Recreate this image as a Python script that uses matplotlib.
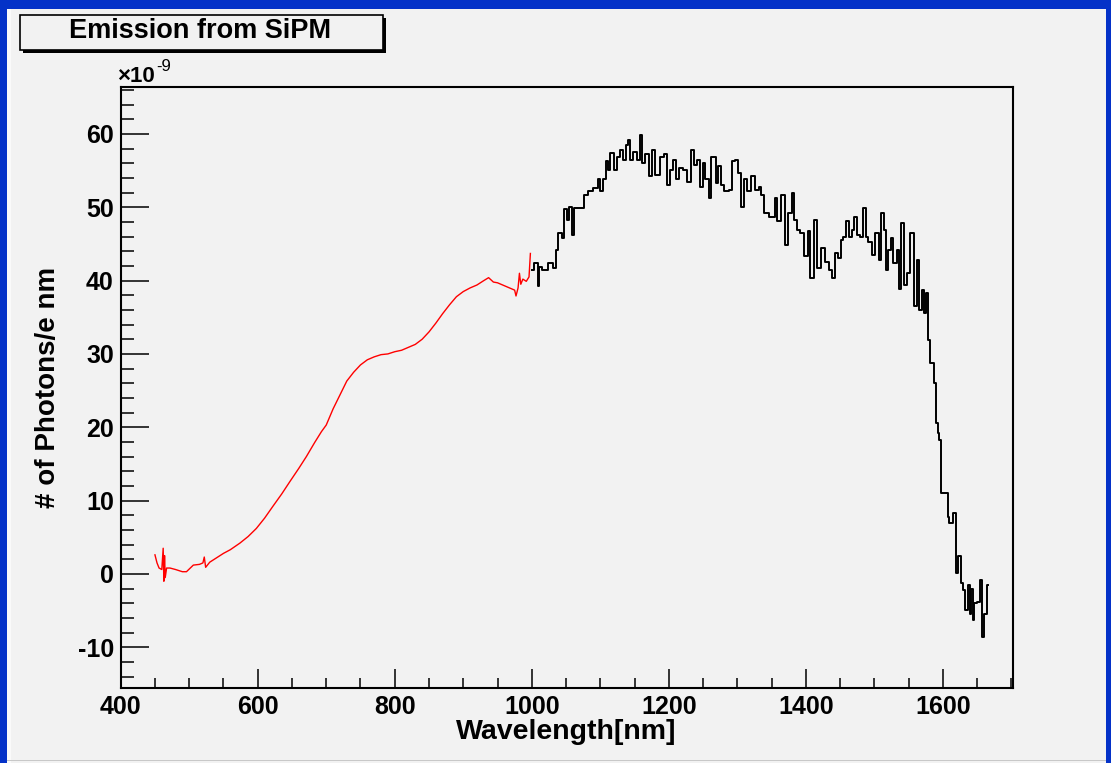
import matplotlib
matplotlib.use("Agg")
import matplotlib.pyplot as plt
from matplotlib.patches import Rectangle
from matplotlib.ticker import MultipleLocator

plt.rcParams['font.family'] = ['Liberation Sans', 'DejaVu Sans']
plt.rcParams['axes.unicode_minus'] = False

# red part (visible spectrometer), values in units of 1e-9
wl_vis = [450, 453, 456, 460, 462, 463, 464, 465, 467, 472, 480, 490, 496, 506,
          515, 520, 522, 524, 530, 540, 550, 560, 574, 586, 598, 610, 622, 635,
          647, 660, 671, 683, 693, 700, 710, 720, 730, 740, 750, 760, 770, 780,
          790, 800, 810, 820, 830, 840, 850, 860, 870, 880, 890, 900, 910, 920,
          930, 937, 944, 950, 960, 970, 975, 977, 980, 982, 984, 987, 992, 996,
          998]
ph_vis = [2.6, 1.5, 0.8, 0.6, 3.5, -1.0, 2.5, -0.5, 0.8, 0.8, 0.6, 0.3, 0.3, 1.2,
          1.3, 1.5, 2.3, 0.9, 1.6, 2.2, 2.8, 3.3, 4.2, 5.1, 6.2, 7.6, 9.2, 10.9,
          12.6, 14.4, 16.0, 17.9, 19.4, 20.3, 22.5, 24.4, 26.3, 27.5, 28.5, 29.2,
          29.6, 29.9, 30.0, 30.3, 30.5, 30.9, 31.3, 32.0, 33.0, 34.2, 35.5, 36.7,
          37.8, 38.5, 39.0, 39.4, 40.0, 40.4, 39.8, 39.7, 39.3, 38.9, 38.7, 37.9,
          39.0, 41.0, 39.5, 40.2, 39.9, 40.5, 43.7]

# black part (infrared spectrometer)
wl_ir = [1000, 1007, 1010, 1012, 1019, 1027, 1034, 1037, 1041, 1046, 1049, 1053,
         1056, 1061, 1063, 1075, 1078, 1085, 1095, 1097, 1102, 1107, 1110, 1112,
         1117, 1122, 1126, 1131, 1136, 1139, 1141, 1146, 1151, 1156, 1160, 1163,
         1168, 1173, 1178, 1183, 1190, 1195, 1199, 1204, 1209, 1212, 1217, 1224,
         1229, 1235, 1238, 1243, 1248, 1251, 1256, 1260, 1263, 1268, 1270, 1275,
         1277, 1285, 1290, 1294, 1299, 1302, 1308, 1311, 1316, 1324, 1329, 1333,
         1336, 1341, 1353, 1357, 1360, 1367, 1372, 1377, 1382, 1384, 1389, 1394,
         1402, 1404, 1409, 1414, 1419, 1426, 1431, 1436, 1440, 1445, 1450, 1453,
         1457, 1460, 1465, 1470, 1472, 1477, 1482, 1486, 1489, 1494, 1499, 1504,
         1509, 1511, 1516, 1518, 1523, 1526, 1530, 1535, 1537, 1541, 1545, 1550,
         1555, 1560, 1564, 1567, 1572, 1574, 1577, 1579, 1584, 1589, 1591, 1594,
         1596, 1599, 1606, 1608, 1611, 1618, 1620, 1625, 1628, 1630, 1635, 1638,
         1640, 1642, 1645, 1647, 1652, 1656, 1659, 1662, 1666]
ph_ir = [41.5, 42.4, 39.2, 41.9, 41.5, 42.4, 41.7, 44.2, 46.5, 45.8, 49.7, 48.3,
         50.1, 46.2, 49.9, 49.9, 51.7, 52.2, 52.6, 53.8, 52.2, 53.8, 56.3, 55.1,
         57.4, 55.1, 56.9, 57.8, 56.5, 58.5, 59.2, 56.5, 57.6, 56.5, 59.9, 56.0,
         57.2, 54.2, 57.8, 54.4, 56.9, 57.2, 53.1, 55.1, 56.5, 53.8, 55.3, 55.1,
         53.5, 57.8, 55.8, 56.5, 52.8, 56.0, 53.8, 51.3, 56.9, 56.9, 53.3, 55.6,
         53.1, 52.2, 52.4, 56.3, 56.5, 54.7, 50.1, 53.8, 52.2, 54.2, 52.4, 52.8,
         51.7, 49.2, 48.7, 51.3, 48.1, 51.7, 44.9, 49.2, 51.9, 48.3, 46.9, 46.5,
         43.3, 46.7, 40.3, 48.3, 41.7, 44.4, 42.6, 41.5, 40.3, 43.8, 43.1, 45.6,
         46.0, 48.1, 46.0, 46.9, 48.7, 46.2, 46.0, 49.9, 46.0, 45.3, 43.5, 46.5,
         42.8, 49.2, 46.9, 41.5, 44.2, 45.8, 42.4, 44.2, 38.8, 47.8, 39.4, 41.0,
         46.5, 36.5, 42.8, 36.0, 38.7, 35.6, 38.3, 31.9, 28.7, 26.0, 20.6, 19.2,
         18.3, 11.0, 11.0, 7.8, 6.9, 8.3, 0.1, 2.4, -1.3, -2.2, -4.9, -1.5,
         -5.4, -2.0, -6.3, -4.0, -3.8, -0.8, -8.6, -5.4, -1.5]

W, H = 1111, 763
bg = '#f2f2f2'
blue = '#0432c8'
fig = plt.figure(figsize=(W / 100, H / 100), dpi=100, facecolor=bg)

# blue frame on left / top / right
fig.add_artist(Rectangle((0, 0), 7 / W, 1, transform=fig.transFigure, color=blue, lw=0))
fig.add_artist(Rectangle((0, 1 - 9 / H), 1, 9 / H, transform=fig.transFigure, color=blue, lw=0))
fig.add_artist(Rectangle((1 - 5 / W, 0), 5 / W, 1, transform=fig.transFigure, color=blue, lw=0))
fig.add_artist(Rectangle((7 / W, 0), 4 / W, 1 - 9 / H, transform=fig.transFigure, color='#fafafa', lw=0))
fig.add_artist(Rectangle((7 / W, 2 / H), 1 - 12 / W, 1.2 / H, transform=fig.transFigure, color='#c8c8c8', lw=0))

ax = fig.add_axes([120.7 / W, 1 - 688.3 / H, 892 / W, (688.3 - 87) / H])
ax.set_facecolor(bg)

ax.plot(wl_vis, ph_vis, color='red', lw=1.0)
ax.plot(wl_ir, ph_ir, color='black', lw=1.4, drawstyle='steps-mid')

ax.set_xlim(400, 1702)
ax.set_ylim(-15.6, 66.4)

ax.xaxis.set_major_locator(MultipleLocator(200))
ax.xaxis.set_minor_locator(MultipleLocator(50))
ax.yaxis.set_major_locator(MultipleLocator(10))
ax.yaxis.set_minor_locator(MultipleLocator(2))
ax.tick_params(axis='both', which='both', direction='in', top=False, right=False, width=1.1)
ax.tick_params(axis='x', which='major', length=13.5, pad=5)
ax.tick_params(axis='x', which='minor', length=7)
ax.tick_params(axis='y', which='major', length=20, pad=5)
ax.tick_params(axis='y', which='minor', length=9.5)
for lab in ax.get_xticklabels() + ax.get_yticklabels():
    lab.set_fontsize(18)
    lab.set_fontweight('bold')
for s in ax.spines.values():
    s.set_linewidth(1.5)

ax.set_xlabel('Wavelength[nm]', fontsize=20.5, fontweight='bold', labelpad=0)
ax.set_ylabel('# of Photons/e nm', fontsize=20, fontweight='bold', labelpad=12)

# exponent label, superscript attached to the right of the base text
base = fig.text(117 / W, 1 - 76 / H, '×10', fontsize=16, fontweight='bold',
                ha='left', va='center')
ax.annotate('-9', xy=(1.0, 0.95), xycoords=base, xytext=(1, 0), textcoords='offset points',
            fontsize=12, ha='left', va='center', annotation_clip=False)

# title box with shadow
fig.add_artist(Rectangle((23 / W, 1 - 53 / H), 363 / W, 35 / H, transform=fig.transFigure,
                         facecolor='black', lw=0))
fig.add_artist(Rectangle((20 / W, 1 - 50 / H), 363 / W, 35 / H, transform=fig.transFigure,
                         facecolor=bg, edgecolor='black', lw=1.2))
fig.text(200 / W, 1 - 31 / H, 'Emission from SiPM', fontsize=19.5, fontweight='bold',
         ha='center', va='center')

fig.savefig('out.png', dpi=100, facecolor=bg)
